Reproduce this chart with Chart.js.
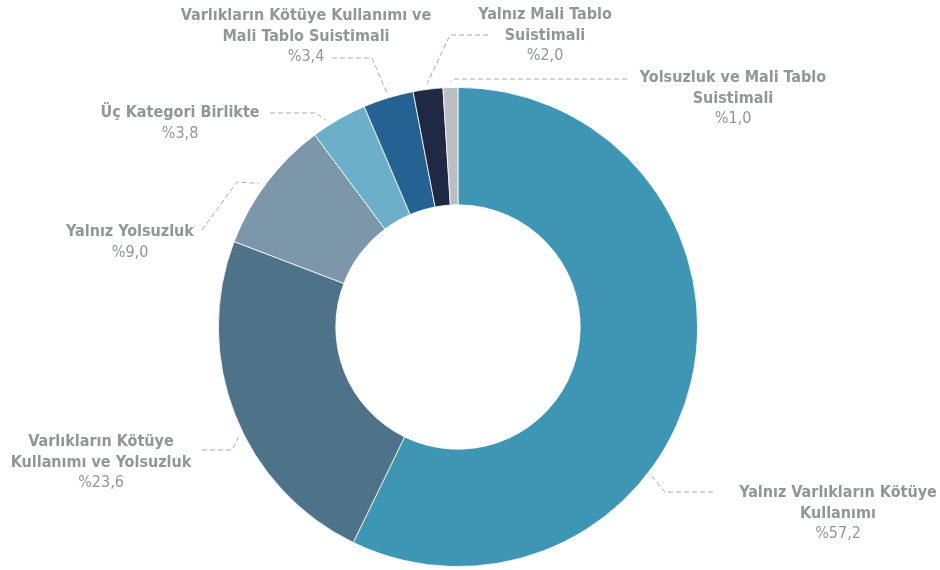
<!DOCTYPE html>
<html>
<head>
<meta charset="utf-8">
<script src="https://cdn.jsdelivr.net/npm/chart.js@4.4.0/dist/chart.umd.min.js"></script>
<style>
  html, body { margin: 0; padding: 0; background: #ffffff; }
  #wrap { width: 940px; height: 570px; position: relative; }
</style>
</head>
<body>
<div id="wrap"><canvas id="pieChart"></canvas></div>
<script>
// Veriler (saat yönünde, tepeden başlayarak)
const categories = [
    'Yalnız Varlıkların Kötüye\nKullanımı',
    'Varlıkların Kötüye\nKullanımı ve Yolsuzluk',
    'Yalnız Yolsuzluk',
    'Üç Kategori Birlikte',
    'Varlıkların Kötüye Kullanımı ve\nMali Tablo Suistimali',
    'Yalnız Mali Tablo\nSuistimali',
    'Yolsuzluk ve Mali Tablo\nSuistimali'
];
const shares = [57.2, 23.6, 9.0, 3.8, 3.4, 2.0, 1.0];
const sliceColors = ['#3e96b4', '#4e7389', '#7b97a9', '#6bb0c8', '#256293', '#1f2944', '#bbbec2'];

// Etiket yerleşimi: metin merkezi, kılavuz çizgisi noktaları, dilim üzerindeki bağlantı oranı
const labelLayout = [
    { x: 838, y: 493, line: [[713, 492], [665, 492]], frac: 0.62 },
    { x: 101, y: 442, line: [[202, 450], [232, 450]], frac: 0.44 },
    { x: 130, y: 232, line: [[202, 230], [237, 182]], frac: 0.46 },
    { x: 180, y: 113, line: [[270, 113], [316, 113]], frac: 0.3 },
    { x: 306, y: 16,  line: [[332, 58], [372, 58]], frac: 0.5 },
    { x: 545, y: 15,  line: [[488, 35], [450, 35]], frac: 0.5 },
    { x: 733, y: 78,  line: [[627, 79], [454, 79]], frac: 0.5 }
];

const FONT = '"Liberation Sans Narrow", "DejaVu Sans Condensed", Roboto, sans-serif';
const TEXT_COLOR = '#939598';

const calloutPlugin = {
    id: 'callouts',
    afterDatasetsDraw(chart) {
        const ctx = chart.ctx;
        const meta = chart.getDatasetMeta(0);
        ctx.save();
        meta.data.forEach((arc, i) => {
            const p = arc.getProps(['x', 'y', 'startAngle', 'endAngle', 'outerRadius'], true);
            const lay = labelLayout[i];
            const a = p.startAngle + lay.frac * (p.endAngle - p.startAngle);
            const ax = p.x + Math.cos(a) * (p.outerRadius + 6);
            const ay = p.y + Math.sin(a) * (p.outerRadius + 6);

            // kılavuz çizgisi
            ctx.strokeStyle = '#a9abae';
            ctx.lineWidth = 1;
            ctx.setLineDash([5, 3]);
            ctx.beginPath();
            ctx.moveTo(lay.line[0][0], lay.line[0][1]);
            ctx.lineTo(lay.line[1][0], lay.line[1][1]);
            ctx.lineTo(ax, ay);
            ctx.stroke();
            ctx.setLineDash([]);

            // metin
            ctx.fillStyle = TEXT_COLOR;
            ctx.textAlign = 'center';
            ctx.textBaseline = 'middle';
            const lines = categories[i].split('\n');
            let y = lay.y;
            ctx.font = 'bold 16px ' + FONT;
            lines.forEach(t => {
                ctx.fillText(t, lay.x, y);
                y += 20.5;
            });
            ctx.font = '16px ' + FONT;
            ctx.fillText('%' + shares[i].toFixed(1).replace('.', ','), lay.x, y);
        });
        ctx.restore();
    }
};

document.addEventListener('DOMContentLoaded', function () {
    const pieCtx = document.getElementById('pieChart').getContext('2d');
    new Chart(pieCtx, {
        type: 'doughnut',
        data: {
            labels: categories,
            datasets: [{
                data: shares,
                backgroundColor: sliceColors,
                borderColor: '#ffffff',
                borderWidth: 0.8
            }]
        },
        options: {
            responsive: true,
            maintainAspectRatio: false,
            animation: false,
            cutout: '51%',
            layout: { padding: { top: 87, bottom: 3, left: 218, right: 242 } },
            plugins: {
                legend: { display: false },
                tooltip: { enabled: false }
            }
        },
        plugins: [calloutPlugin]
    });
});
</script>
</body>
</html>
